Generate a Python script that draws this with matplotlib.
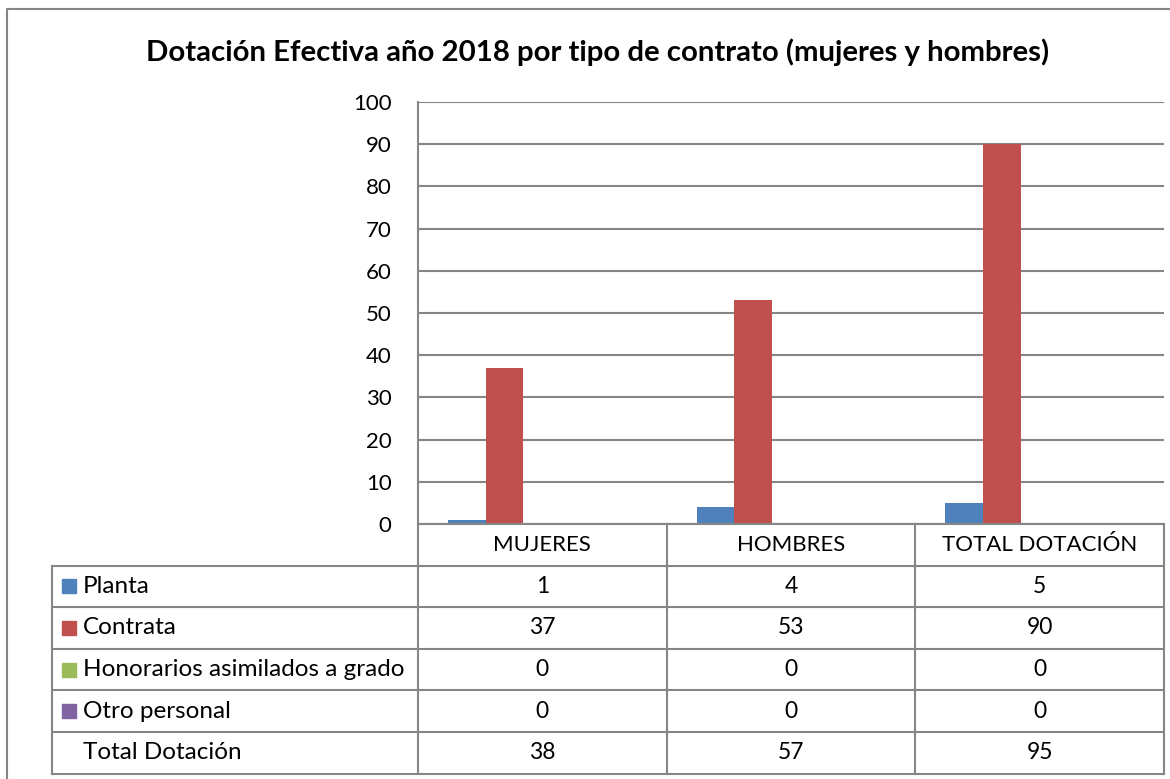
import numpy as np
import matplotlib.pyplot as plt
from matplotlib.lines import Line2D
from matplotlib.patches import Rectangle

plt.rcParams['font.family'] = ['Lato', 'DejaVu Sans']

title = 'Dotación Efectiva año 2018 por tipo de contrato (mujeres y hombres)'
categories = ['MUJERES', 'HOMBRES', 'TOTAL DOTACIÓN']
series_names = ['Planta', 'Contrata', 'Honorarios asimilados a grado', 'Otro personal', 'Total Dotación']
planta = [1, 4, 5]
contrata = [37, 53, 90]
honorarios = [0, 0, 0]
otro = [0, 0, 0]
total = [38, 57, 95]
colors = ['#4F81BD', '#C0504D', '#9BBB59', '#8064A2', 'none']

W, H = 1170, 779
fig = plt.figure(figsize=(W / 100, H / 100), dpi=100)

def fx(px):
    return px / W

def fy(py):
    return 1 - py / H

ax_l, ax_r, ax_t, ax_b = 418, 1164, 102, 524
ax = fig.add_axes([fx(ax_l), fy(ax_b), fx(ax_r - ax_l), fy(ax_t) - fy(ax_b)])

values = [planta, contrata, honorarios, otro, total]
x = np.arange(len(categories))
bw = 0.152
for i, (vals, c) in enumerate(zip(values, colors)):
    if c == 'none':
        continue
    ax.bar(x + (i - 2) * bw, vals, bw, color=c, zorder=3)

ax.set_xlim(-0.5, len(categories) - 0.5)
ax.set_ylim(0, 100)
ax.set_yticks(np.arange(0, 101, 10))
ax.set_xticks([])
ax.tick_params(axis='y', length=0, pad=19, labelsize=16)
ax.grid(axis='y', color='#868686', linewidth=1.5, zorder=0)
for s in ['top', 'right', 'bottom']:
    ax.spines[s].set_visible(False)
ax.spines['left'].set_color('#868686')
ax.spines['left'].set_linewidth(1.5)

fig.text(fx(598), fy(52), title, ha='center', va='center', fontsize=21.2, fontweight='bold')

# data table below the plot
gc = '#868686'
row_h = 41.6
tbl_l = 52
col_edges = [ax_l + (ax_r - ax_l) * k / len(categories) for k in range(len(categories) + 1)]
n_rows = len(series_names)
top_tbl = ax_b
rows_top = ax_b + row_h
bottom_tbl = rows_top + n_rows * row_h

def hline(x0, x1, y):
    fig.add_artist(Line2D([fx(x0), fx(x1)], [fy(y), fy(y)], color=gc, lw=1.5))

def vline(xp, y0, y1):
    fig.add_artist(Line2D([fx(xp), fx(xp)], [fy(y0), fy(y1)], color=gc, lw=1.5))

hline(ax_l, ax_r, top_tbl)
for r in range(n_rows + 1):
    hline(tbl_l, ax_r, rows_top + r * row_h)
vline(tbl_l, rows_top, bottom_tbl)
for e in col_edges:
    vline(e, top_tbl, bottom_tbl)

for k, cat in enumerate(categories):
    cx = (col_edges[k] + col_edges[k + 1]) / 2
    fig.text(fx(cx), fy(top_tbl + row_h / 2), cat, ha='center', va='center', fontsize=16)

for r, (name, vals, c) in enumerate(zip(series_names, values, colors)):
    cy = rows_top + r * row_h + row_h / 2
    if c != 'none':
        fig.add_artist(Rectangle((fx(62), fy(cy + 7)), fx(14), fy(cy - 7) - fy(cy + 7), color=c))
    fig.text(fx(83), fy(cy), name, ha='left', va='center', fontsize=17.5)
    for k in range(len(categories)):
        cx = (col_edges[k] + col_edges[k + 1]) / 2
        fig.text(fx(cx), fy(cy), str(vals[k]), ha='center', va='center', fontsize=16.5)

# outer chart border
fig.add_artist(Line2D([fx(7), fx(7), fx(1170)], [fy(779), fy(9), fy(9)], color=gc, lw=1.5))

fig.savefig('out.png', dpi=100)
